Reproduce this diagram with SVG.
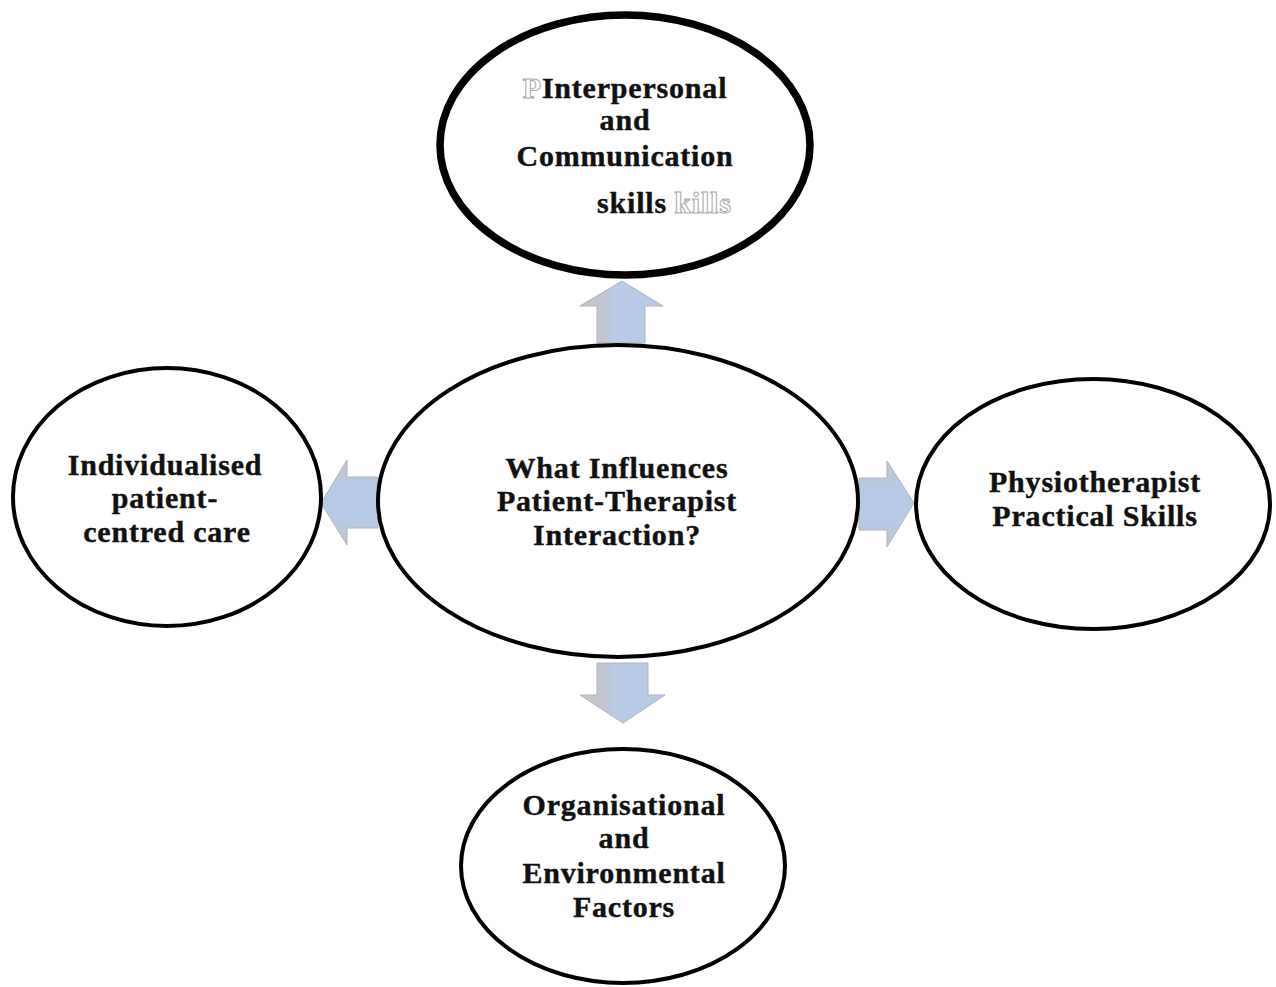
<svg xmlns="http://www.w3.org/2000/svg" width="1276" height="987" viewBox="0 0 1276 987">
<defs>
<linearGradient id="gh" x1="0" y1="0" x2="1" y2="0">
<stop offset="0" stop-color="#c6c7ca"/>
<stop offset="0.3" stop-color="#c0c6d0"/>
<stop offset="0.4" stop-color="#b9cbe6"/>
<stop offset="1" stop-color="#b6c9e6"/>
</linearGradient>
<linearGradient id="gv" x1="0" y1="0" x2="0" y2="1">
<stop offset="0" stop-color="#c4c6ca"/>
<stop offset="0.3" stop-color="#b6c9e6"/>
<stop offset="0.7" stop-color="#b6c9e6"/>
<stop offset="1" stop-color="#c4c6ca"/>
</linearGradient>
<style>
.node{fill:#fff;stroke:#000;stroke-width:4}
.thick{stroke-width:7.5}
.t{font-family:"Liberation Serif","Times New Roman",serif;font-weight:bold;font-size:30px;letter-spacing:0.8px;fill:#111;stroke:#111;stroke-width:0.4;text-anchor:middle}
.o{fill:#fff;stroke:#a8a8a8;stroke-width:1}
.arr{stroke:#b0b4ba;stroke-width:1}
</style>
</defs>
<rect width="1276" height="987" fill="#fff"/>
<g id="connectors">
<polygon class="arr" fill="url(#gh)" points="622,281 663,306 645,306 645,343 597,343 597,306 580,306"/>
<polygon class="arr" fill="url(#gh)" points="597,663 648,663 648,695 665,695 623,723 580,695 597,695"/>
<polygon class="arr" fill="url(#gv)" points="321,503 347,460 347,477 378,477 378,528 347,528 347,545"/>
<polygon class="arr" fill="url(#gv)" points="859,478 887,478 887,461 914,503 887,547 887,530 859,530"/>
</g>
<g id="node-top">
<ellipse class="node thick" cx="625" cy="145" rx="185" ry="130"/>
<text class="t" x="625" y="98"><tspan class="o">P</tspan>Interpersonal</text>
<text class="t" x="625" y="130">and</text>
<text class="t" x="625" y="166">Communication</text>
<text class="t" x="632" y="213">skills</text>
<text class="t o" x="703" y="213">kills</text>
</g>
<g id="node-center">
<ellipse class="node" cx="618" cy="501" rx="240" ry="156"/>
<text class="t" x="617" y="478">What Influences</text>
<text class="t" x="617" y="511">Patient-Therapist</text>
<text class="t" x="617" y="545">Interaction?</text>
</g>
<g id="node-left">
<ellipse class="node" cx="167" cy="497" rx="154" ry="129"/>
<text class="t" x="165" y="475">Individualised</text>
<text class="t" x="165" y="508">patient-</text>
<text class="t" x="167" y="542">centred care</text>
</g>
<g id="node-right">
<ellipse class="node" cx="1093" cy="504" rx="177" ry="125"/>
<text class="t" x="1095" y="492">Physiotherapist</text>
<text class="t" x="1095" y="526">Practical Skills</text>
</g>
<g id="node-bottom">
<ellipse class="node" cx="623" cy="866" rx="162" ry="117"/>
<text class="t" x="624" y="815">Organisational</text>
<text class="t" x="624" y="848">and</text>
<text class="t" x="624" y="883">Environmental</text>
<text class="t" x="624" y="917">Factors</text>
</g>
</svg>
